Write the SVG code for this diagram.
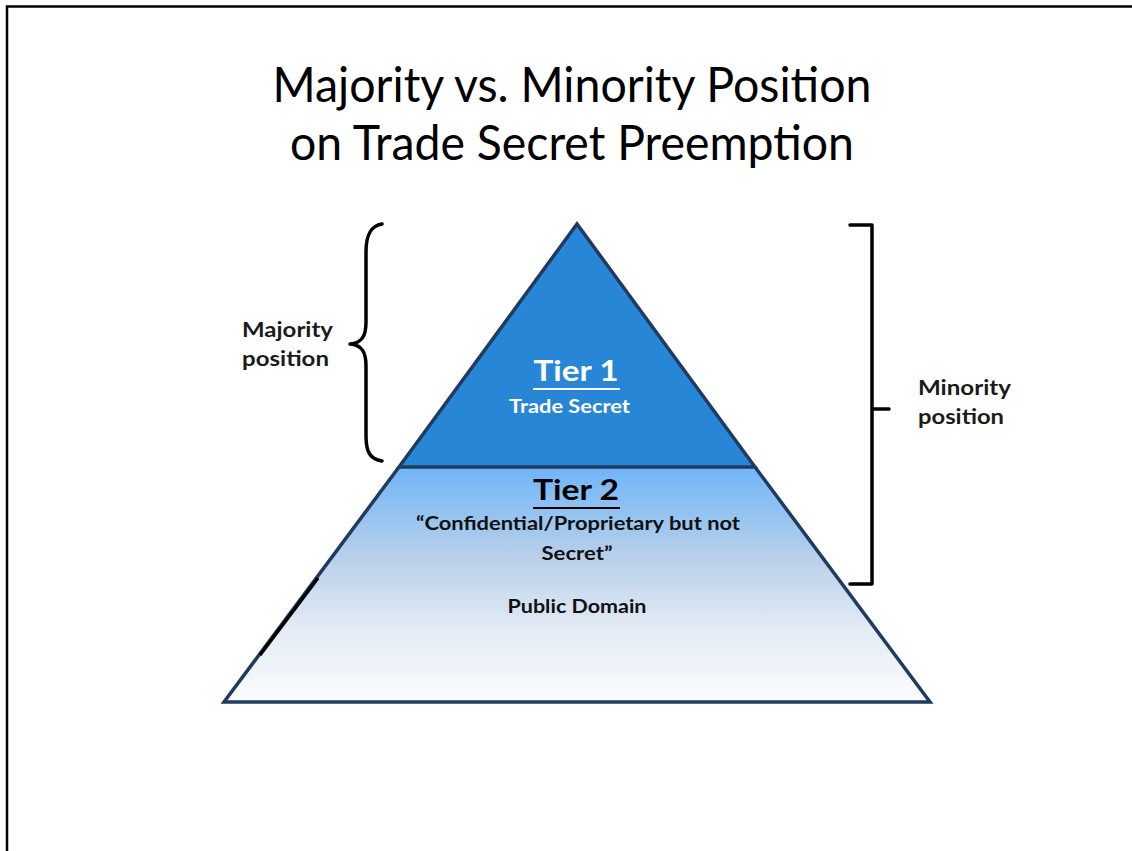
<svg xmlns="http://www.w3.org/2000/svg" width="1132" height="851" viewBox="0 0 1132 851">
  <style>
    .title { font-family: Lato, "Open Sans", "Liberation Sans", sans-serif; font-size: 48px; fill: #000; text-anchor: middle; }
    .lbl { font-family: Lato, "Open Sans", "Liberation Sans", sans-serif; font-weight: bold; font-size: 20px; fill: #1a1a1a; }
    .tier { font-family: Lato, "Open Sans", "Liberation Sans", sans-serif; font-weight: bold; font-size: 29px; text-anchor: middle; }
    .sub { font-family: Lato, "Open Sans", "Liberation Sans", sans-serif; font-weight: bold; font-size: 18px; text-anchor: middle; }
    .edge { fill: none; stroke: #1f3b60; stroke-width: 3.5; stroke-linejoin: miter; }
    .brace { fill: none; stroke: #000; stroke-width: 3.5; stroke-linecap: round; stroke-linejoin: round; }
  </style>
  <defs>
    <linearGradient id="tier2Fill" x1="0" y1="467" x2="0" y2="702" gradientUnits="userSpaceOnUse">
      <stop offset="0" stop-color="#70b5f7"/>
      <stop offset="0.18" stop-color="#90c2f1"/>
      <stop offset="0.38" stop-color="#b8cfea"/>
      <stop offset="0.7" stop-color="#e4ecf6"/>
      <stop offset="1" stop-color="#fbfcfe"/>
    </linearGradient>
  </defs>

  <rect width="1132" height="851" fill="#fff"/>

  <!-- page frame (top and left edges) -->
  <path d="M7 851 V6.5 H1132" fill="none" stroke="#000" stroke-width="2.5"/>

  <!-- title -->
  <g id="title">
    <text class="title" x="572" y="102" textLength="599" lengthAdjust="spacingAndGlyphs">Majority vs. Minority Position</text>
    <text class="title" x="572" y="160" textLength="564" lengthAdjust="spacingAndGlyphs">on Trade Secret Preemption</text>
  </g>

  <!-- lower tier of the pyramid -->
  <g id="tier2">
    <path d="M399 467 H755 L930 702 H224 Z" fill="url(#tier2Fill)"/>
    <path class="edge" d="M399 467 L224 702 H930 L755 467"/>
    <path d="M260 655 L318 578" stroke="#000" stroke-width="3.5" fill="none"/>
    <text class="tier" x="576" y="500" fill="#000" textLength="86" lengthAdjust="spacingAndGlyphs">Tier 2</text>
    <line x1="533" y1="508" x2="620" y2="508" stroke="#000" stroke-width="2.2"/>
    <text class="sub" x="578" y="530" fill="#111" textLength="324" lengthAdjust="spacingAndGlyphs">“Confidential/Proprietary but not</text>
    <text class="sub" x="577" y="560" fill="#111" textLength="71" lengthAdjust="spacingAndGlyphs">Secret”</text>
    <text class="sub" x="577" y="613" fill="#111" textLength="139" lengthAdjust="spacingAndGlyphs">Public Domain</text>
  </g>

  <!-- upper tier of the pyramid -->
  <g id="tier1">
    <path d="M577 224 L755 467 H399 Z" fill="#2886d6"/>
    <path class="edge" d="M399 467 L577 224 L755 467 Z"/>
    <text class="tier" x="576" y="381" fill="#fff" textLength="85" lengthAdjust="spacingAndGlyphs">Tier 1</text>
    <line x1="533" y1="389" x2="620" y2="389" stroke="#fff" stroke-width="2.2"/>
    <text class="sub" x="569.5" y="413" fill="#fff" textLength="121" lengthAdjust="spacingAndGlyphs">Trade Secret</text>
  </g>

  <!-- brackets marking each position -->
  <g id="connectors">
    <path class="brace" d="M382 224 C370 226 366 236 366 252 V322 C366 336 362 343 350 344 C362 345 366 352 366 366 V436 C366 452 370 459 382 461"/>
    <path class="brace" d="M850 225 H872 V584 H850 M872 409 H889" stroke-linecap="butt" stroke-linejoin="miter"/>
  </g>

  <g id="majority">
    <text class="lbl" x="242" y="337" textLength="91" lengthAdjust="spacingAndGlyphs">Majority</text>
    <text class="lbl" x="242" y="366" textLength="87" lengthAdjust="spacingAndGlyphs">position</text>
  </g>

  <g id="minority">
    <text class="lbl" x="918" y="395" textLength="93" lengthAdjust="spacingAndGlyphs">Minority</text>
    <text class="lbl" x="918" y="424" textLength="86" lengthAdjust="spacingAndGlyphs">position</text>
  </g>
</svg>
